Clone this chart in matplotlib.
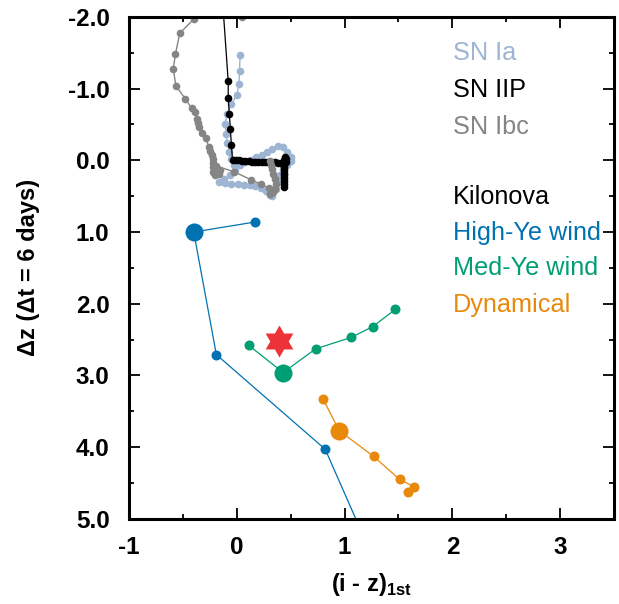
import numpy as np
import matplotlib.pyplot as plt
from matplotlib.path import Path

plt.rcParams['font.family'] = ['Liberation Sans', 'DejaVu Sans']
plt.rcParams['mathtext.fontset'] = 'custom'
plt.rcParams['mathtext.rm'] = 'Liberation Sans'
plt.rcParams['mathtext.bf'] = 'Liberation Sans:bold'
plt.rcParams['axes.unicode_minus'] = False

# supernova tracks, (i - z) vs delta z
sn_ia_x = [0.03, 0.025, 0.02, 0.0, -0.05, -0.09, -0.11, -0.10, -0.09, -0.07, -0.05, -0.03, -0.02,
           -0.06, -0.12, -0.17, -0.11, -0.05, 0.01, 0.07, 0.12, 0.17, 0.22, 0.27, 0.31, 0.33,
           0.36, 0.38, 0.40, 0.43, 0.47, 0.50, 0.50, 0.47, 0.43, 0.38, 0.33, 0.28, 0.23, 0.18,
           0.13, 0.08, 0.03]
sn_ia_y = [-1.47, -1.25, -1.07, -0.91, -0.79, -0.65, -0.50, -0.37, -0.24, -0.12, -0.02, 0.07, 0.14,
           0.21, 0.26, 0.30, 0.32, 0.33, 0.33, 0.34, 0.34, 0.36, 0.39, 0.43, 0.48, 0.50,
           0.40, 0.30, 0.20, 0.12, 0.06, 0.01, -0.05, -0.12, -0.18, -0.20, -0.16, -0.12, -0.08, -0.04,
           0.0, 0.03, 0.06]

sn_iip_x = [-0.15, -0.08, -0.08, -0.07, -0.06, -0.05, -0.04, -0.01, 0.02, 0.05, 0.08, 0.11, 0.14,
            0.17, 0.20, 0.23, 0.26, 0.29, 0.32, 0.35, 0.38, 0.41, 0.44, 0.46, 0.46, 0.45, 0.44,
            0.44, 0.44, 0.44, 0.44, 0.44, 0.44, 0.44, 0.44, 0.44]
sn_iip_y = [-2.6, -1.10, -0.87, -0.65, -0.43, -0.21, 0.0, 0.0, 0.0, 0.01, 0.01, 0.01, 0.02,
            0.02, 0.02, 0.03, 0.03, 0.03, 0.03, 0.03, 0.04, 0.04, 0.04, 0.02, -0.02, -0.05, 0.0,
            0.05, 0.09, 0.13, 0.17, 0.21, 0.25, 0.29, 0.33, 0.37]

sn_ibc_x = [0.05, -0.15, -0.40, -0.53, -0.57, -0.59, -0.565, -0.48, -0.42, -0.39, -0.37, -0.36,
            -0.355, -0.32, -0.29, -0.26, -0.245, -0.23, -0.22, -0.22, -0.225, -0.22, -0.20, -0.17,
            -0.16, -0.19, -0.025, 0.13, 0.22, 0.30, 0.34, 0.31, 0.35, 0.36, 0.35, 0.34, 0.33,
            0.32, 0.31]
sn_ibc_y = [-2.0, -2.2, -1.97, -1.77, -1.48, -1.27, -1.04, -0.86, -0.73, -0.68, -0.57, -0.52,
            -0.47, -0.38, -0.31, -0.19, -0.13, -0.08, -0.02, 0.04, 0.10, 0.16, 0.21, 0.19,
            0.13, 0.08, 0.16, 0.27, 0.33, 0.39, 0.44, 0.47, 0.40, 0.33, 0.26, 0.19, 0.12,
            0.06, 0.01]

# kilonova models (index 1 = big marker)
high_ye_x = [0.17, -0.40, -0.19, 0.82, 1.25]
high_ye_y = [0.86, 1.00, 2.71, 4.03, 5.5]
med_ye_x = [0.11, 0.43, 0.73, 1.06, 1.26, 1.47]
med_ye_y = [2.58, 2.96, 2.63, 2.47, 2.32, 2.08]
dyn_x = [0.80, 0.95, 1.27, 1.51, 1.64, 1.59]
dyn_y = [3.33, 3.77, 4.13, 4.45, 4.55, 4.62]
big_idx = {'high': 1, 'med': 1, 'dyn': 1}

star_x, star_y = 0.39, 2.52

c_ia = '#9db4d3'
c_ibc = '#858585'
c_blue = '#0072b2'
c_green = '#009e73'
c_orange = '#e8890c'

# six-pointed star marker shape
ang = np.pi / 2 + np.arange(12) * np.pi / 6
rad = np.where(np.arange(12) % 2 == 0, 1.0, 1 / np.sqrt(3))
hexagram = Path(np.column_stack([rad * np.cos(ang), rad * np.sin(ang)]), closed=False)

fig = plt.figure(figsize=(6.19, 6.04), dpi=100)
ax = fig.add_axes([0.2085, 0.141, 0.7835, 0.831])

ax.plot(sn_ia_x, sn_ia_y, '-o', color=c_ia, lw=1, ms=5.5, mec='none')
ax.plot(sn_iip_x, sn_iip_y, '-o', color='black', lw=0.9, ms=5.5, mec='none')
ax.plot(sn_ibc_x, sn_ibc_y, '-o', color=c_ibc, lw=1, ms=5.5, mec='none')

for xs, ys, col, key in [(high_ye_x, high_ye_y, c_blue, 'high'),
                         (med_ye_x, med_ye_y, c_green, 'med'),
                         (dyn_x, dyn_y, c_orange, 'dyn')]:
    ax.plot(xs, ys, '-o', color=col, lw=0.9, ms=7.2, mec='none')
    i = big_idx[key]
    ax.plot(xs[i], ys[i], 'o', color=col, ms=13, mec='none')

ax.plot(star_x, star_y, marker=hexagram, color='#ee3338', ms=23, mec='none', ls='none')

ax.set_xlim(-1, 3.5)
ax.set_ylim(5.0, -2.0)
ax.set_xticks([-1, 0, 1, 2, 3])
ax.set_xticks(np.arange(-0.5, 3.5, 1.0), minor=True)
ax.set_yticks(np.arange(-2, 6, 1))
ax.set_yticks(np.arange(-1.5, 5, 1.0), minor=True)
ax.set_yticklabels(['%.1f' % v for v in np.arange(-2, 6, 1)])
ax.tick_params(which='both', direction='in', top=True, right=True, width=1.3,
               labelsize=17.5)
ax.tick_params(axis='y', pad=14)
ax.tick_params(axis='x', pad=12)
ax.tick_params(which='major', length=8)
ax.tick_params(which='minor', length=3.5)
for lab in ax.get_xticklabels() + ax.get_yticklabels():
    lab.set_fontweight('bold')
for sp in ax.spines.values():
    sp.set_linewidth(2.2)

ax.set_xlabel(r'(i - z)$_{\mathbf{1st}}$', fontsize=17, fontweight='bold', labelpad=9)
ax.set_ylabel('Δz (Δt = 6 days)', fontsize=17, fontweight='bold', labelpad=20)

labels = ['SN Ia', 'SN IIP', 'SN Ibc', 'Kilonova', 'High-Ye wind', 'Med-Ye wind', 'Dynamical']
label_colors = [c_ia, 'black', c_ibc, 'black', c_blue, c_green, c_orange]
label_y = [0.928, 0.855, 0.781, 0.641, 0.570, 0.500, 0.426]
for t, c, yy in zip(labels, label_colors, label_y):
    ax.text(0.668, yy, t, color=c, fontsize=18.2, transform=ax.transAxes, va='center', ha='left')

fig.savefig('out.png', dpi=100)
